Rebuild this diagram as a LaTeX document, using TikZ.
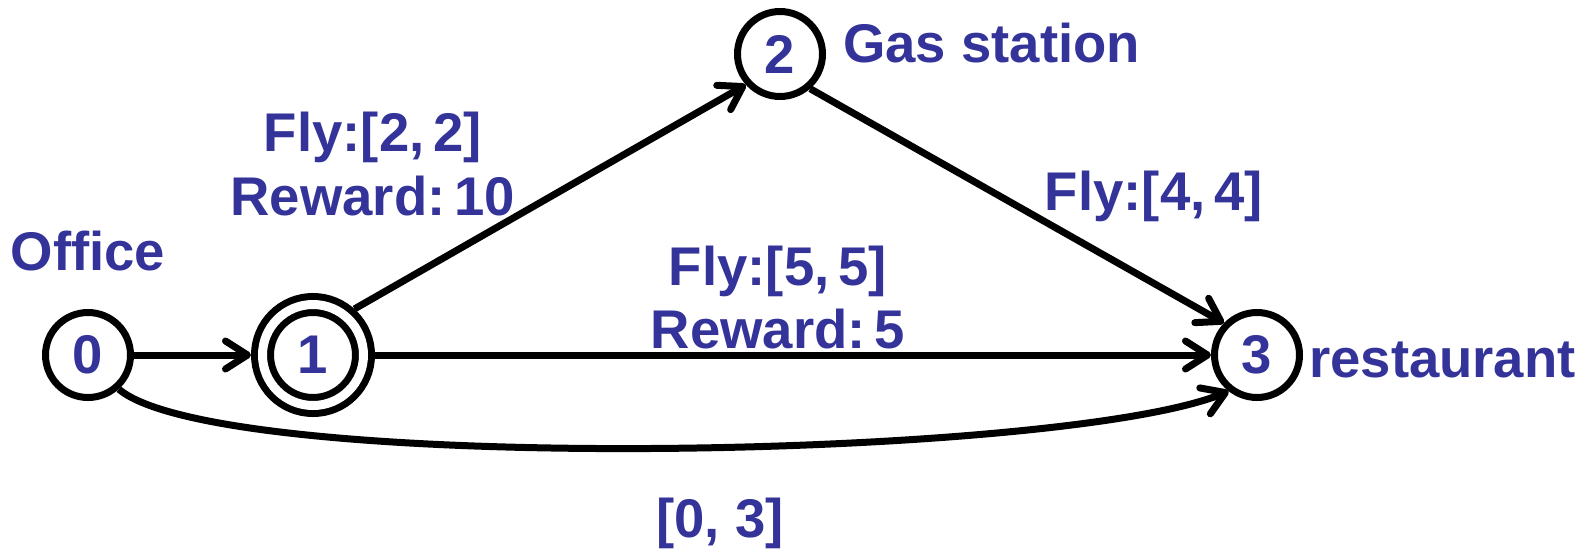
\documentclass[tikz,border=0pt]{standalone}
\usepackage{fontspec}
\setmainfont{Liberation Sans}
\usetikzlibrary{arrows.meta}
\definecolor{lbl}{RGB}{51,51,153}
\begin{document}
\begin{tikzpicture}[x=1pt,y=-1pt,
  every node/.style={font=\fontsize{54.5}{62}\selectfont\bfseries, text=lbl, inner sep=0pt},
  state/.style={draw=black, circle, line width=7pt, minimum size=85pt},
  accstate/.style={draw=black, circle, line width=7pt, double=white, double distance=9pt, minimum size=101pt, outer sep=11.5pt},
  edge/.style={draw=black, line width=7pt, -{Straight Barb[length=22pt,width=28pt,round]}},
  lab/.style={anchor=base}
]
\useasboundingbox (0,0) rectangle (1591,550);
\node[state] (n0) at (88,355) {0};
\node[accstate] (n1) at (313,355) {1};
\node[state] (n2) at (780,54) {2};
\node[state] (n3) at (1257,355) {3};

\node[lab] (office) at (88,270) {Office};
\node[anchor=base west] (gas) at (843,62) {Gas station};
\node[anchor=base west] (rest) at (1309,377) {restaurant};
\node[lab] (f22) at (373,151) {Fly:[2,\,2]};
\node[lab] (r10) at (373,215) {Reward:\,10};
\node[lab] (f44) at (1154,210) {Fly:[4,\,4]};
\node[lab] (f55) at (778,285) {Fly:[5,\,5]};
\node[lab] (r5) at (778,348) {Reward:\,5};
\node[lab] (t03) at (720,537) {[0, 3]};

\draw[edge] (n0) -- (n1);
\draw[edge] (n1.48) -- (n2.222);
\draw[edge] (n2.311) -- (n3.136);
\draw[edge] (n1) -- (n3);
\draw[edge] (n0.312) .. controls (220,475) and (1060,460) .. (n3.232);
\end{tikzpicture}
\end{document}
